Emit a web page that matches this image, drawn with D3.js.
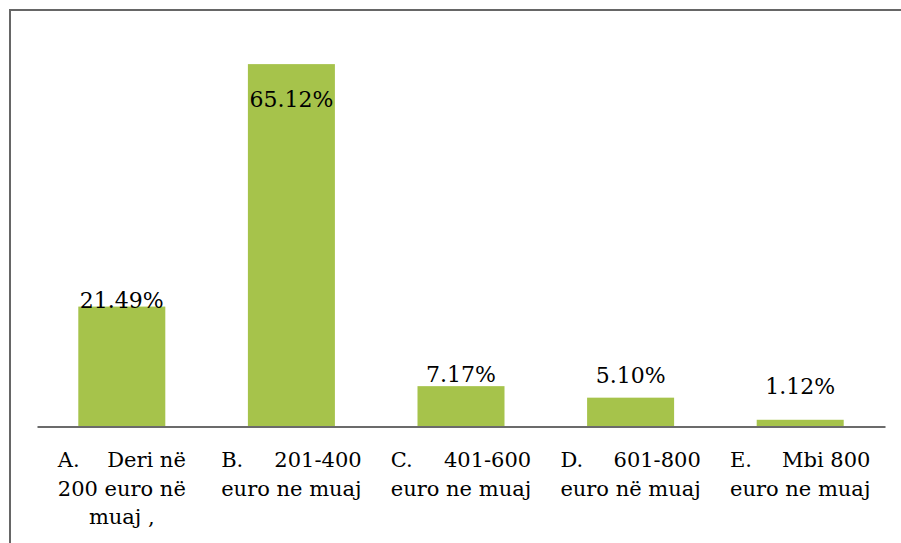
<!DOCTYPE html>
<html>
<head>
<meta charset="utf-8">
<script src="https://cdn.jsdelivr.net/npm/d3@7"></script>
<style>
  html, body { margin: 0; padding: 0; background: #fff; }
  svg { display: block; }
</style>
</head>
<body>
<script>
// ---- data ----
const categoryLines = [
  ["A.\tDeri në", "200 euro në", "muaj ,"],
  ["B.\t201-400", "euro ne muaj"],
  ["C.\t401-600", "euro ne muaj"],
  ["D.\t601-800", "euro në muaj"],
  ["E.\tMbi 800", "euro ne muaj"]
];
const values = [21.49, 65.12, 7.17, 5.10, 1.12];
const valueLabels = ["21.49%", "65.12%", "7.17%", "5.10%", "1.12%"];

// ---- layout / style ----
const W = 901, H = 543;
const FONT = "DejaVu Serif";
const barColor = "#A6C34B";
const axisColor = "#6b6b6b";
// label nudges relative to bar top (pixels), as placed in the original
const labelNudge = [1.5, 43, -4, -15, -26];

const svg = d3.select("body").append("svg").attr("width", W).attr("height", H);

// outer border (right/bottom edges lie outside the view)
svg.append("rect")
  .attr("x", 10).attr("y", 10)
  .attr("width", W + 20).attr("height", H + 20)
  .attr("fill", "#fff").attr("stroke", "#666").attr("stroke-width", 2);

const idx = d3.range(values.length);
const x = d3.scaleBand().domain(idx).range([37, 885]).paddingInner(0.487).paddingOuter(0.2435);
const y = d3.scaleLinear().domain([0, 70]).range([426, 37]);

// bars
svg.append("g").selectAll("rect").data(idx).join("rect")
  .attr("x", i => x(i))
  .attr("y", i => y(values[i]))
  .attr("width", x.bandwidth())
  .attr("height", i => y(0) - y(values[i]))
  .attr("fill", barColor);

// axis line
const xAxis = d3.axisBottom(x).tickSize(0).tickFormat("");
const axG = svg.append("g").attr("transform", `translate(0,${y(0) + 0.5})`).call(xAxis);
axG.select(".domain").attr("stroke", axisColor).attr("stroke-width", 2.2);

// value labels
svg.append("g").selectAll("text").data(idx).join("text")
  .attr("x", i => x(i) + x.bandwidth() / 2)
  .attr("y", i => y(values[i]) + labelNudge[i])
  .attr("text-anchor", "middle")
  .attr("font-family", FONT)
  .attr("font-size", 22)
  .attr("fill", "#000")
  .text(i => valueLabels[i]);

// category labels (justified text boxes, last line centred)
const catSize = 21, lineH = 28.5, base0 = 467;
const tmp = svg.append("text").attr("font-family", FONT).attr("font-size", catSize).attr("visibility", "hidden");
function measure(s) { tmp.text(s); return tmp.node().getComputedTextLength(); }

const catG = svg.append("g").attr("font-family", FONT).attr("font-size", catSize).attr("fill", "#000");
idx.forEach(i => {
  const lines = categoryLines[i];
  const widths = lines.map(l => measure(l.replace("\t", " ")));
  const boxW = d3.max(widths);
  const cx = x(i) + x.bandwidth() / 2;
  const left = cx - boxW / 2;
  lines.forEach((l, j) => {
    const yy = base0 + j * lineH;
    const last = j === lines.length - 1;
    if (!last && l.includes("\t")) {
      const [a, b] = l.split("\t");
      catG.append("text").attr("x", left).attr("y", yy).attr("text-anchor", "start").text(a);
      catG.append("text").attr("x", left + boxW).attr("y", yy).attr("text-anchor", "end").text(b);
    } else if (!last) {
      const words = l.split(" ");
      const ww = words.map(measure);
      const gap = words.length > 1 ? (boxW - d3.sum(ww)) / (words.length - 1) : 0;
      let px = left;
      words.forEach((w, k) => {
        catG.append("text").attr("x", px).attr("y", yy).text(w);
        px += ww[k] + gap;
      });
    } else {
      catG.append("text").attr("x", cx).attr("y", yy).attr("text-anchor", "middle").text(l);
    }
  });
});
tmp.remove();
</script>
</body>
</html>
